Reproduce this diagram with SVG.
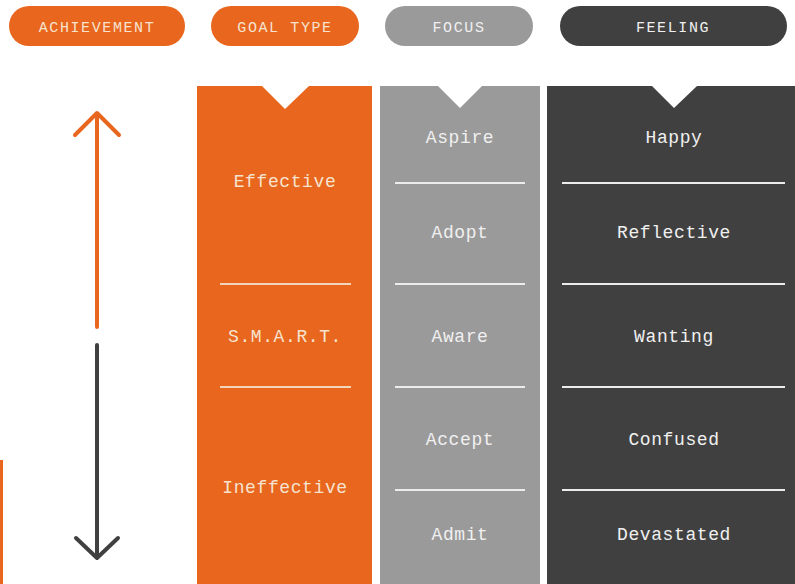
<svg xmlns="http://www.w3.org/2000/svg" width="795" height="584" viewBox="0 0 795 584">
<style>
  text { font-family: "Liberation Mono", "Courier New", monospace; text-anchor: middle; }
  .pill { font-size: 15px; letter-spacing: 1.6px; }
  .cell { font-size: 18px; letter-spacing: 0.6px; }
  .or { fill: #F6E3CF; }
  .lt { fill: #F0F0F0; }
  .sepO { stroke: #F3D5BC; stroke-width: 2; }
  .sepG { stroke: #ECECEC; stroke-width: 2; }
</style>
<rect width="795" height="584" fill="#FFFFFF"/>
<rect x="0" y="460" width="3" height="124" fill="#E8661E"/>

<g id="hdr-achievement">
  <rect x="9" y="6" width="176" height="40" rx="20" fill="#E8661E"/>
  <text class="pill or" x="97" y="32">ACHIEVEMENT</text>
</g>
<g id="hdr-goaltype">
  <rect x="211" y="6" width="148" height="40" rx="20" fill="#E8661E"/>
  <text class="pill or" x="285" y="32">GOAL TYPE</text>
</g>
<g id="hdr-focus">
  <rect x="385" y="6" width="148" height="40" rx="20" fill="#9B9A9A"/>
  <text class="pill lt" x="459" y="32">FOCUS</text>
</g>
<g id="hdr-feeling">
  <rect x="560" y="6" width="227" height="40" rx="20" fill="#404040"/>
  <text class="pill lt" x="673" y="32">FEELING</text>
</g>

<g id="col-goaltype">
  <path d="M197 86 H262 L285 109 L309 86 H372 V584 H197 Z" fill="#E8661E"/>
  <line class="sepO" x1="220" y1="284" x2="351" y2="284"/>
  <line class="sepO" x1="220" y1="387" x2="351" y2="387"/>
  <text class="cell or" x="285" y="187">Effective</text>
  <text class="cell or" x="285" y="342">S.M.A.R.T.</text>
  <text class="cell or" x="285" y="493">Ineffective</text>
</g>

<g id="col-focus">
  <path d="M380 86 H438 L460 108 L482 86 H540 V584 H380 Z" fill="#9B9A9A"/>
  <line class="sepG" x1="395" y1="183" x2="525" y2="183"/>
  <line class="sepG" x1="395" y1="284" x2="525" y2="284"/>
  <line class="sepG" x1="395" y1="387" x2="525" y2="387"/>
  <line class="sepG" x1="395" y1="490" x2="525" y2="490"/>
  <text class="cell lt" x="460" y="143">Aspire</text>
  <text class="cell lt" x="460" y="238">Adopt</text>
  <text class="cell lt" x="460" y="342">Aware</text>
  <text class="cell lt" x="460" y="445">Accept</text>
  <text class="cell lt" x="460" y="540">Admit</text>
</g>

<g id="col-feeling">
  <path d="M547 86 H652 L674 108 L697 86 H795 V584 H547 Z" fill="#404040"/>
  <line class="sepG" x1="562" y1="183" x2="785" y2="183"/>
  <line class="sepG" x1="562" y1="284" x2="785" y2="284"/>
  <line class="sepG" x1="562" y1="387" x2="785" y2="387"/>
  <line class="sepG" x1="562" y1="490" x2="785" y2="490"/>
  <text class="cell lt" x="674" y="143">Happy</text>
  <text class="cell lt" x="674" y="238">Reflective</text>
  <text class="cell lt" x="674" y="342">Wanting</text>
  <text class="cell lt" x="674" y="445">Confused</text>
  <text class="cell lt" x="674" y="540">Devastated</text>
</g>

<g id="connectors" fill="none" stroke-width="4" stroke-linecap="round" stroke-linejoin="round">
  <g stroke="#E8661E">
    <line x1="97" y1="115" x2="97" y2="327"/>
    <polyline points="75,135 97,113 119,135"/>
  </g>
  <g stroke="#404040">
    <line x1="97" y1="345" x2="97" y2="556"/>
    <polyline points="76,538 97,558 118,538"/>
  </g>
</g>
</svg>
